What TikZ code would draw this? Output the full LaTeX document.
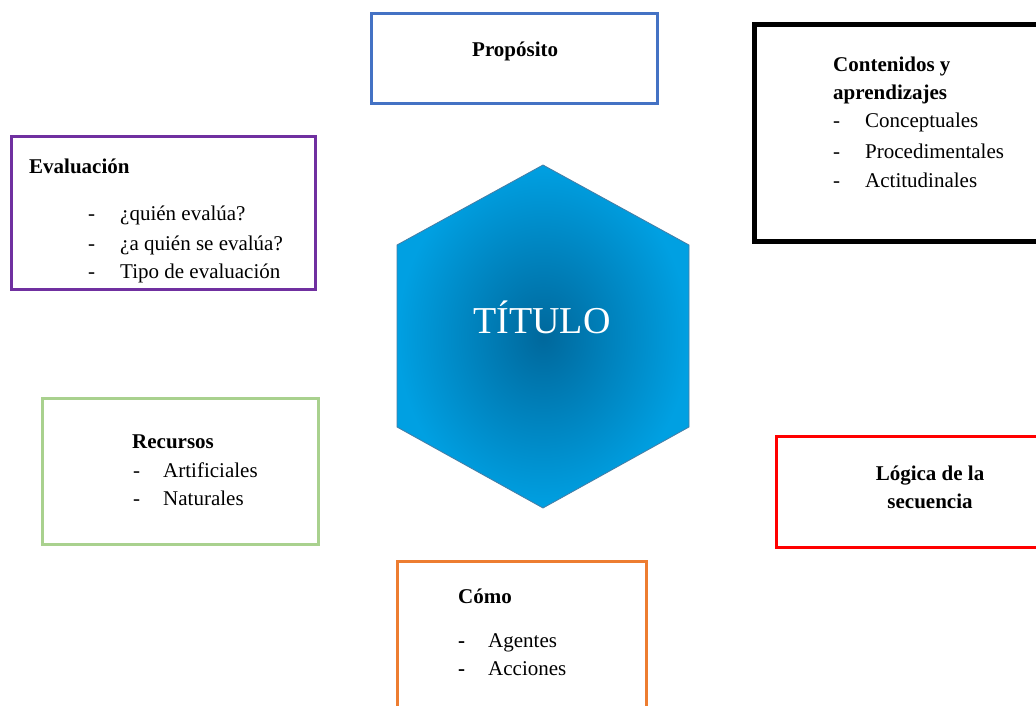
\documentclass[tikz,border=0pt]{standalone}
\usepackage{fontspec}
\setmainfont{Liberation Serif}
\definecolor{cblue}{RGB}{68,114,196}
\definecolor{cpurple}{RGB}{112,48,160}
\definecolor{cgreen}{RGB}{169,209,142}
\definecolor{cred}{RGB}{255,0,0}
\definecolor{corange}{RGB}{237,125,49}
\definecolor{hexin}{RGB}{0,104,156}
\definecolor{hexout}{RGB}{0,160,226}
\definecolor{hexedge}{RGB}{70,125,165}
\tikzset{
  box/.style={draw, line width=3pt},
  txt/.style={anchor=base west, inner sep=0pt, font=\fontsize{21}{25}\selectfont},
  hd/.style={anchor=base west, inner sep=0pt, font=\fontsize{21}{25}\selectfont\bfseries},
  hdc/.style={anchor=base, inner sep=0pt, font=\fontsize{21}{25}\selectfont\bfseries},
}
\begin{document}
\begin{tikzpicture}[x=1pt,y=-1pt]
\useasboundingbox (0,0) rectangle (1036,706);
\clip (0,0) rectangle (1036,706);
\fill[white] (0,0) rectangle (1036,706);

% boxes
\draw[box, cblue] (371,14) rectangle (657,104);
\draw[box, black, line width=5pt] (754,25) rectangle (1050,241);
\draw[box, cpurple] (11,137) rectangle (315,289);
\draw[box, cgreen] (42,398) rectangle (318,544);
\draw[box, cred] (776,436) rectangle (1050,547);
\draw[box, corange] (397,561) rectangle (646,720);

% hexagon
\coordinate (h1) at (543,165);
\coordinate (h2) at (689,245);
\coordinate (h3) at (689,427);
\coordinate (h4) at (543,508);
\coordinate (h5) at (397,427);
\coordinate (h6) at (397,245);
\shade[inner color=hexin, outer color=hexout, draw=hexedge, line width=0.8pt]
  (h1) -- (h2) -- (h3) -- (h4) -- (h5) -- (h6) -- cycle;
\node (titulo) [anchor=base, inner sep=0pt, text=white, font=\fontsize{38}{40}\selectfont] at (542,333) {TÍTULO};

% Propósito
\node (proposito) [hd] at (472,57) {Propósito};

% Contenidos
\node (cont1) [hd] at (833,72) {Contenidos y};
\node (cont2) [hd] at (833,100) {aprendizajes};
\node (cd1) [txt] at (833,128) {-};
\node (ct1) [txt] at (865,128) {Conceptuales};
\node (cd2) [txt] at (833,158) {-};
\node (ct2) [txt] at (865,158) {Procedimentales};
\node (cd3) [txt] at (833,187) {-};
\node (ct3) [txt] at (865,187) {Actitudinales};

% Evaluación
\node (eval) [hd] at (29,173) {Evaluación};
\node (ed1) [txt] at (88,220) {-};
\node (et1) [txt] at (120,220) {¿quién evalúa?};
\node (ed2) [txt] at (88,250) {-};
\node (et2) [txt] at (120,250) {¿a quién se evalúa?};
\node (ed3) [txt] at (88,278) {-};
\node (et3) [txt] at (120,278) {Tipo de evaluación};

% Recursos
\node (rec) [hd] at (132,448) {Recursos};
\node (rd1) [txt] at (133,477) {-};
\node (rt1) [txt] at (163,477) {Artificiales};
\node (rd2) [txt] at (133,505) {-};
\node (rt2) [txt] at (163,505) {Naturales};

% Lógica
\node (log1) [hdc] at (930,480) {Lógica de la};
\node (log2) [hdc] at (930,508) {secuencia};

% Cómo
\node (como) [hd] at (458,603) {Cómo};
\node (md1) [hd] at (458,647) {-};
\node (mt1) [txt] at (488,647) {Agentes};
\node (md2) [hd] at (458,675) {-};
\node (mt2) [txt] at (488,675) {Acciones};
\end{tikzpicture}
\end{document}
